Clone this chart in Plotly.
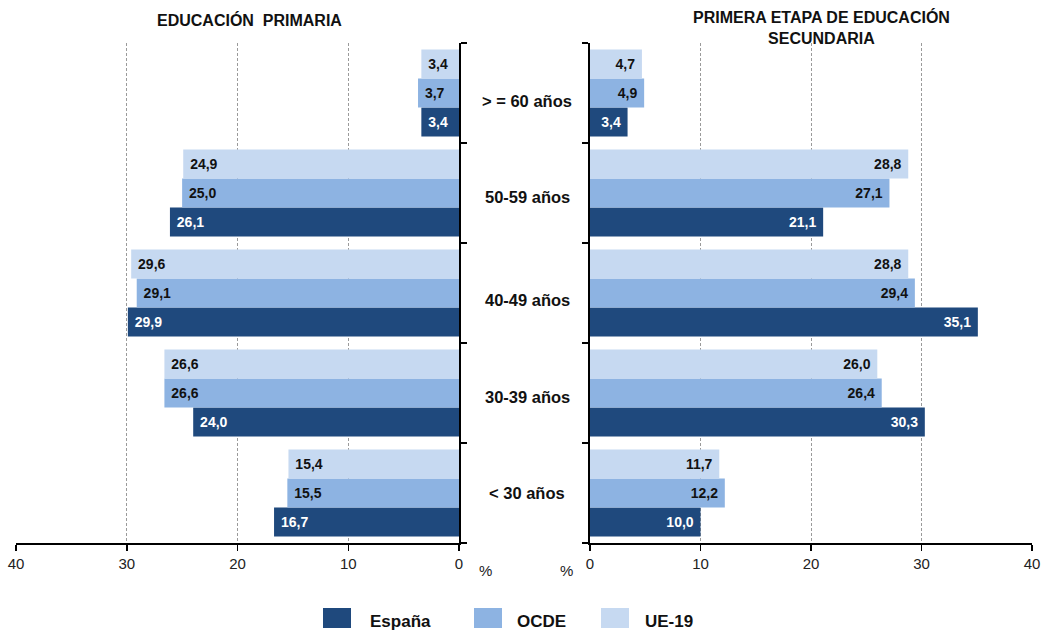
import plotly.graph_objects as go

categories = ["< 30 años", "30-39 años", "40-49 años", "50-59 años", "> = 60 años"]
series_names = ["España", "OCDE", "UE-19"]

# Educación primaria (left panel)
prim_espana = [16.7, 24.0, 29.9, 26.1, 3.4]
prim_ocde = [15.5, 26.6, 29.1, 25.0, 3.7]
prim_ue19 = [15.4, 26.6, 29.6, 24.9, 3.4]

# Primera etapa de educación secundaria (right panel)
sec_espana = [10.0, 30.3, 35.1, 21.1, 3.4]
sec_ocde = [12.2, 26.4, 29.4, 27.1, 4.9]
sec_ue19 = [11.7, 26.0, 28.8, 28.8, 4.7]

tick_vals = [0, 10, 20, 30, 40]

colors = ["#1F497D", "#8DB3E2", "#C6D9F1"]
text_colors = ["white", "#111111", "#111111"]
FONT = "Arial, Liberation Sans, sans-serif"

W, H = 1043, 632
PT, PB = 43, 543          # plot area top / bottom in pixels
PH = PB - PT


def py(pix):
    """pixel y -> paper y (relative to plot area)"""
    return (PB - pix) / PH


def px(pix):
    return pix / W


fig = go.Figure()

left = [prim_espana, prim_ocde, prim_ue19]
right = [sec_espana, sec_ocde, sec_ue19]

for i, name in enumerate(series_names):
    fig.add_trace(go.Bar(
        y=categories, x=left[i], orientation="h", name=name,
        marker=dict(color=colors[i], line=dict(width=0)),
        texttemplate="&nbsp;%{x:.1f}", textposition="inside", insidetextanchor="end",
        constraintext="none", textangle=0,
        textfont=dict(family=FONT, size=14, color=text_colors[i], weight="bold"),
        xaxis="x", yaxis="y", showlegend=False, legendgroup=name,
    ))
for i, name in enumerate(series_names):
    fig.add_trace(go.Bar(
        y=categories, x=right[i], orientation="h", name=name,
        marker=dict(color=colors[i], line=dict(width=0)),
        texttemplate="%{x:.1f}&nbsp;", textposition="inside", insidetextanchor="end",
        constraintext="none", textangle=0,
        textfont=dict(family=FONT, size=14, color=text_colors[i], weight="bold"),
        xaxis="x2", yaxis="y2", showlegend=False, legendgroup=name,
    ))

xaxis_common = dict(
    tickvals=tick_vals, showgrid=True, gridcolor="#9a9a9a", griddash="3px,2px",
    gridwidth=1, zeroline=False, showline=True, linecolor="black", linewidth=2,
    ticks="outside", ticklen=6, tickcolor="black", tickwidth=1.5,
    tickfont=dict(family=FONT, size=15, color="#222222"), fixedrange=True,
    automargin=False,
)
yaxis_common = dict(
    type="category", categoryorder="array", categoryarray=categories,
    showticklabels=False, showline=True, linecolor="black", linewidth=2,
    ticks="outside", tickson="boundaries", ticklen=6, tickcolor="black",
    tickwidth=1.5, showgrid=False, zeroline=False, automargin=False,
    fixedrange=True,
)

fig.update_layout(
    width=W, height=H,
    margin=dict(l=0, r=0, t=PT, b=H - PB, autoexpand=False),
    paper_bgcolor="white", plot_bgcolor="white",
    barmode="group", bargap=0.13, bargroupgap=0,
    separators=",.",
    font=dict(family=FONT, size=14, color="#111111"),
    xaxis=dict(domain=[px(16), px(459)], range=[40, 0], anchor="y", **xaxis_common),
    xaxis2=dict(domain=[px(590), px(1032)], range=[0, 40], anchor="y2", **xaxis_common),
    yaxis=dict(anchor="x", side="right", **yaxis_common),
    yaxis2=dict(anchor="x2", side="left", matches="y", **yaxis_common),
    showlegend=False,
)

annotations = []
label_shift = [0, -4, -7, -4, -8]
for c, s in zip(categories, label_shift):
    annotations.append(dict(
        x=px(527), xref="paper", y=c, yref="y", text=c, showarrow=False,
        xanchor="center", yanchor="middle", yshift=s,
        font=dict(family=FONT, size=16.5, color="#111111", weight="bold"),
    ))
annotations.append(dict(x=px(249), xref="paper", y=py(20), yref="paper",
                        text="EDUCACIÓN  PRIMARIA", showarrow=False,
                        xanchor="center", yanchor="middle",
                        font=dict(family=FONT, size=16, color="#111111", weight="bold")))
annotations.append(dict(x=px(821), xref="paper", y=py(28), yref="paper",
                        text="PRIMERA ETAPA DE EDUCACIÓN<br>SECUNDARIA", showarrow=False,
                        xanchor="center", yanchor="middle",
                        font=dict(family=FONT, size=16, color="#111111", weight="bold")))
annotations.append(dict(x=px(485), xref="paper", y=py(570), yref="paper",
                        text="%", showarrow=False, xanchor="center", yanchor="middle",
                        font=dict(family=FONT, size=15, color="#222222")))
annotations.append(dict(x=px(566), xref="paper", y=py(570), yref="paper",
                        text="%", showarrow=False, xanchor="center", yanchor="middle",
                        font=dict(family=FONT, size=15, color="#222222")))

# legend (swatches + names)
legend_swatch_x = [323, 474, 601]
legend_text_x = [368, 515, 643]
shapes = []
for name, col, sx, tx in zip(series_names, colors, legend_swatch_x, legend_text_x):
    shapes.append(dict(type="rect", xref="paper", yref="paper",
                       x0=px(sx), x1=px(sx + 28), y0=py(628), y1=py(608),
                       fillcolor=col, line=dict(width=0)))
    annotations.append(dict(x=px(tx), xref="paper", y=py(621), yref="paper",
                            text=name, showarrow=False, xanchor="left", yanchor="middle",
                            font=dict(family=FONT, size=17, color="#111111", weight="bold")))

fig.update_layout(annotations=annotations, shapes=shapes)

fig.write_html("out.html", config={"displayModeBar": False, "staticPlot": True},
               post_script="document.body.style.margin='0';document.body.style.overflow='hidden';")
